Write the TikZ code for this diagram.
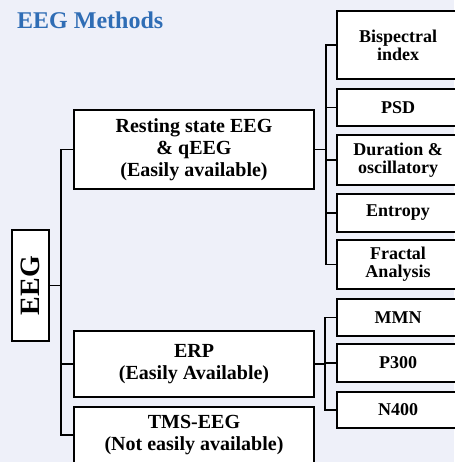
\documentclass[tikz,border=0pt]{standalone}
\usepackage{fontspec}
\setmainfont{Liberation Serif}
\definecolor{eegBack}{HTML}{EEF0F9}
\definecolor{eegBlue}{HTML}{2F6DB5}

\begin{document}
\begin{tikzpicture}[x=1pt,y=-1pt,
  mbox/.style={draw,line width=2.7pt,fill=white,inner sep=0pt,align=center,minimum width=240pt,font=\bfseries\fontsize{20}{22}\selectfont},
  sbox/.style={draw,line width=2.7pt,fill=white,inner sep=0pt,align=center,minimum width=122pt,font=\bfseries\fontsize{18}{18}\selectfont},
  conn/.style={line width=1.8pt}]
\fill[eegBack] (0,0) rectangle (454,462);
\useasboundingbox (0,0) rectangle (454,462);
\node[anchor=west,inner sep=0pt,text=eegBlue,font=\bfseries\fontsize{24}{24}\selectfont] (title) at (17,20) {EEG Methods};
\node[draw,line width=2.7pt,fill=white,inner sep=0pt,minimum width=37pt,minimum height=111pt] (eeg) at (30.5,285.5) {};
\node[rotate=90,font=\bfseries\fontsize{28}{28}\selectfont] at (eeg.center) {EEG};
\node[mbox,minimum height=79pt] (rest) at (194,149.5) {Resting state EEG\\ \& qEEG\\ (Easily available)};
\node[mbox,minimum height=66pt] (erp) at (194,364) {ERP\\ (Easily Available)};
\node[mbox,minimum height=56pt] (tms) at (194,435) {TMS-EEG\\ (Not easily available)};
\node[sbox,minimum height=68pt] (bis) at (398,45) {Bispectral\\ index};
\node[sbox,minimum height=37pt] (psd) at (398,107.5) {PSD};
\node[sbox,minimum height=50pt] (dur) at (398,160) {Duration \&\\ oscillatory};
\node[sbox,minimum height=38pt] (ent) at (398,213) {Entropy};
\node[sbox,minimum height=49pt] (frac) at (398,264.5) {Fractal\\ Analysis};
\node[sbox,minimum height=37pt] (mmn) at (398,317.5) {MMN};
\node[sbox,minimum height=38pt] (p300) at (398,363) {P300};
\node[sbox,minimum height=36pt] (n400) at (398,410) {N400};
\coordinate (trA) at (61,0);
\coordinate (trB) at (326,0);
\coordinate (trC) at (325,0);
\draw[conn] (eeg.east) -- (eeg.east -| trA);
\draw[conn] (rest.west) -- (rest.west -| trA) -- (tms.west -| trA) -- (tms.west);
\draw[conn] (erp.west) -- (erp.west -| trA);
\draw[conn] (rest.east) -- (rest.east -| trB);
\draw[conn] (bis.west) -- (bis.west -| trB) -- (frac.west -| trB) -- (frac.west);
\draw[conn] (psd.west) -- (psd.west -| trB);
\draw[conn] (dur.west) -- (dur.west -| trB);
\draw[conn] (ent.west) -- (ent.west -| trB);
\draw[conn] (erp.east) -- (erp.east -| trC);
\draw[conn] (mmn.west) -- (mmn.west -| trC) -- (n400.west -| trC) -- (n400.west);
\draw[conn] (p300.west) -- (p300.west -| trC);
\end{tikzpicture}
\end{document}
